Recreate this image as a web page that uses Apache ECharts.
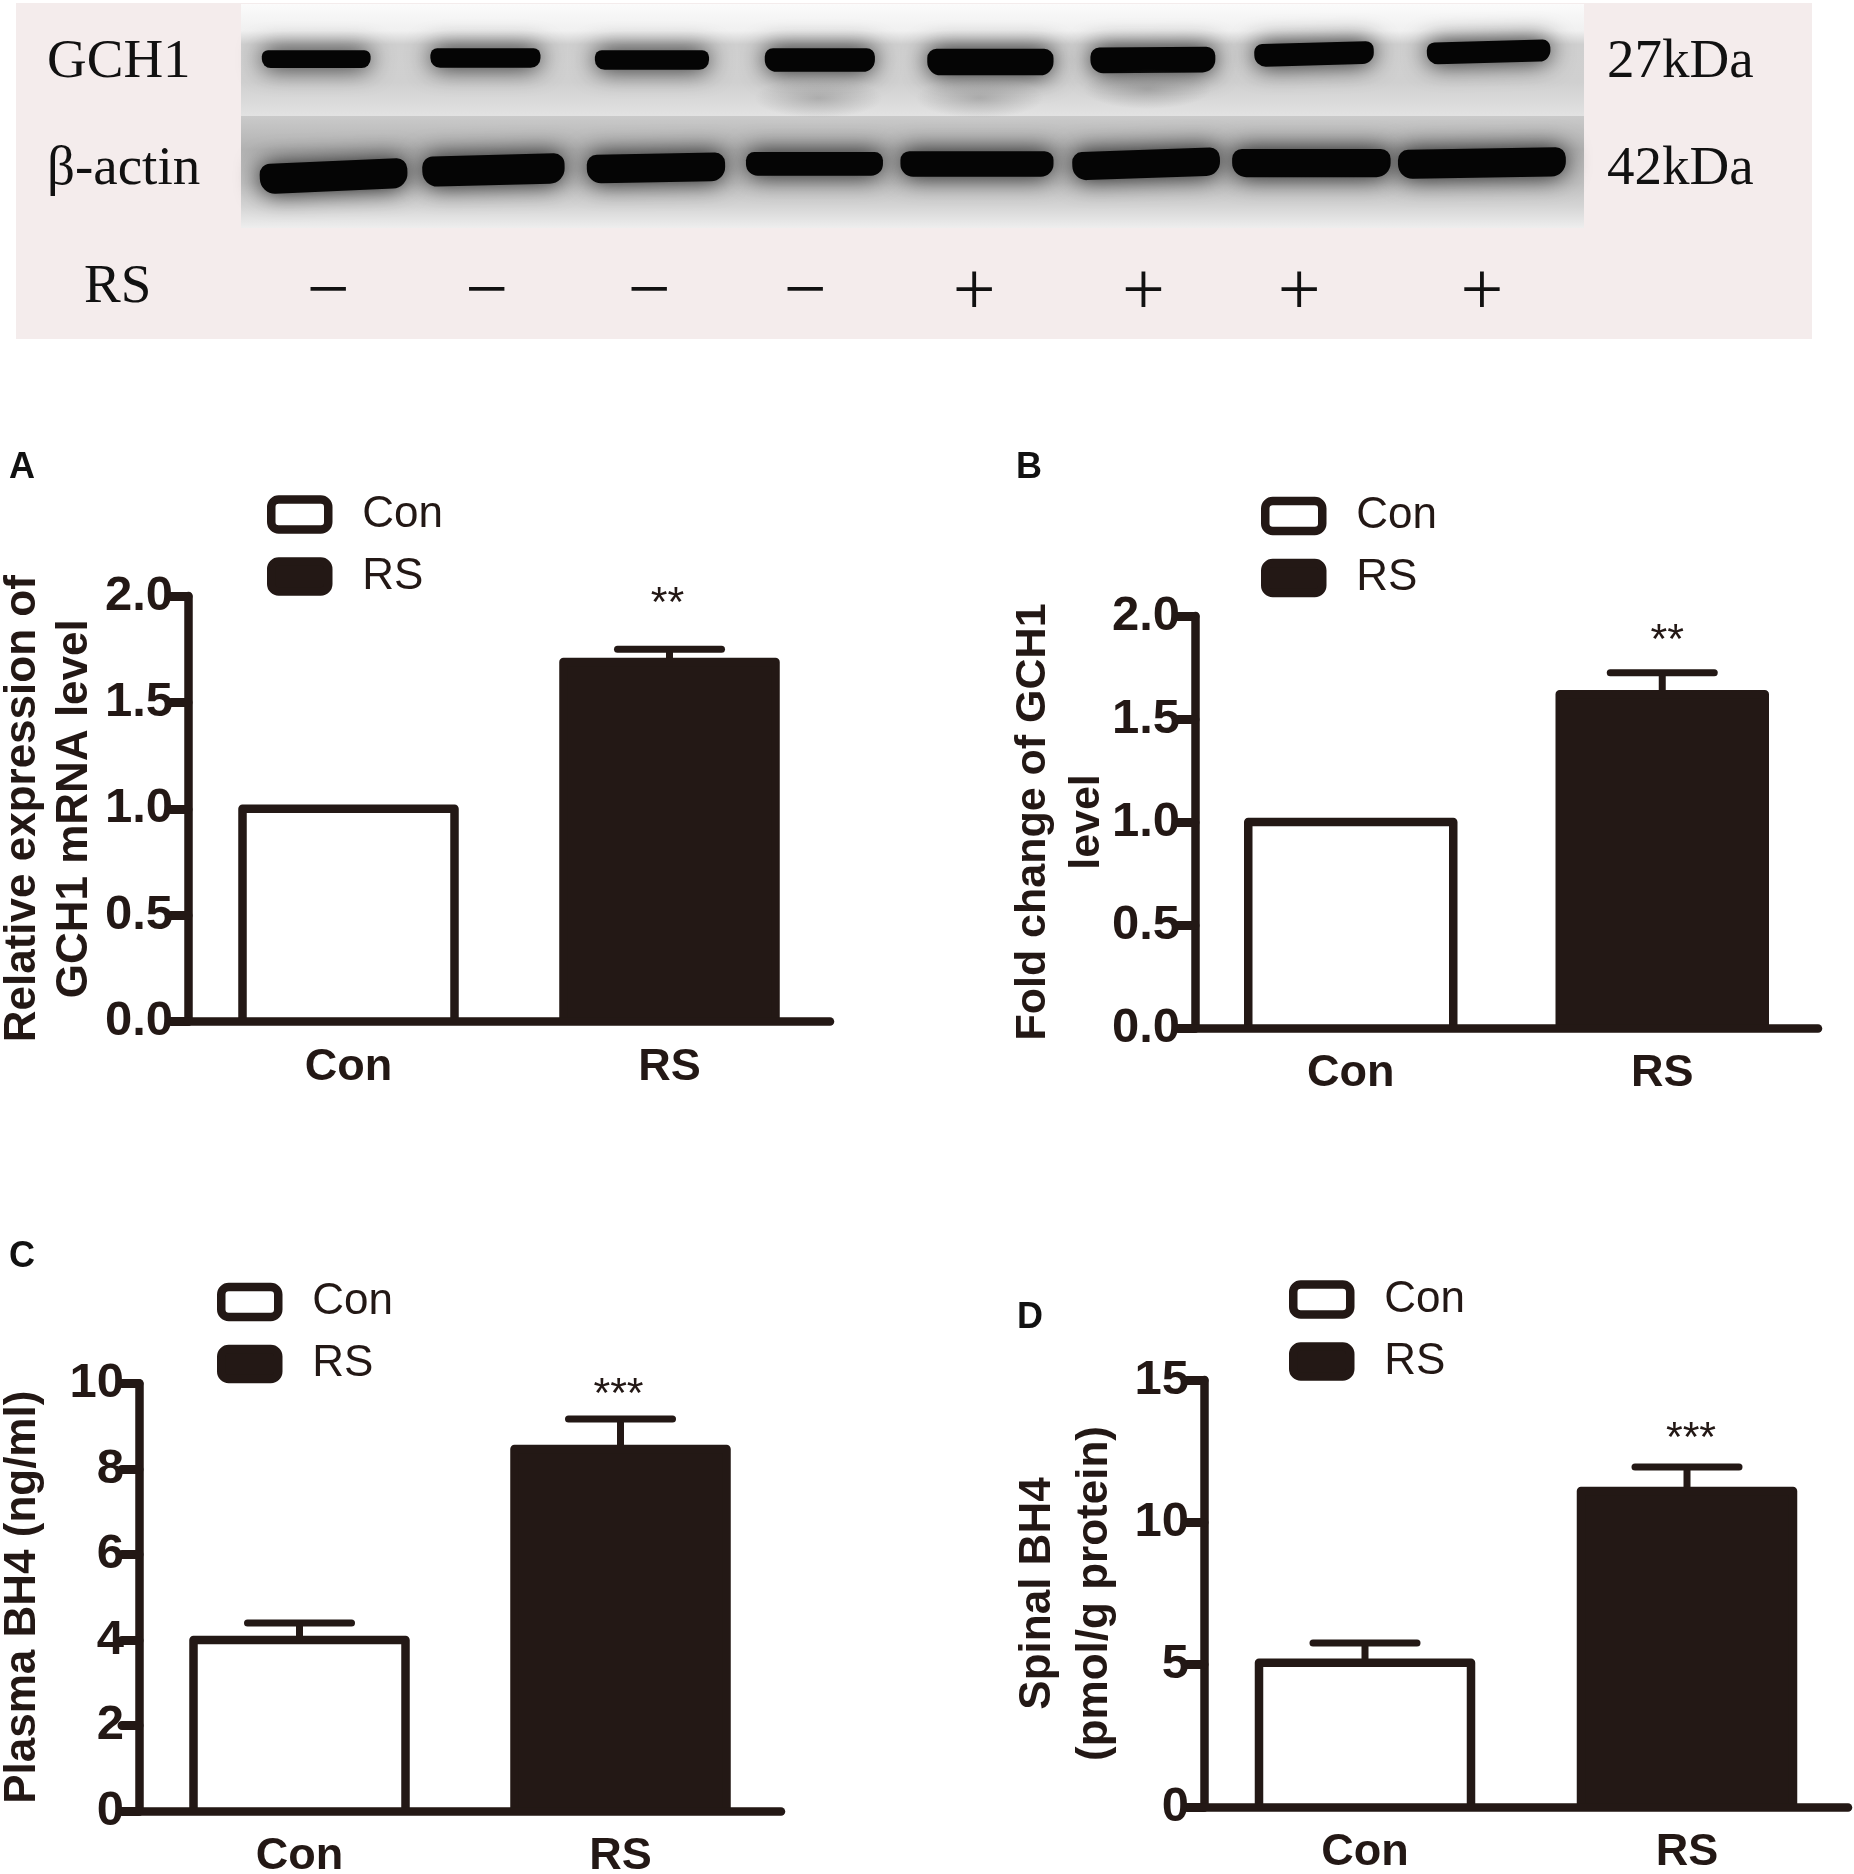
<!DOCTYPE html>
<html lang="en">
<head>
    <meta charset="UTF-8">
    <title>GCH1 and BH4 after RS</title>
    <script src="https://cdn.jsdelivr.net/npm/echarts@6/dist/echarts.min.js"></script>
    <style>
        html, body { margin: 0; padding: 0; background: #fff; }
        #main { width: 1854px; height: 1874px; }
    </style>
</head>
<body>
<div id="main"></div>
<script>
    // bar charts
    var groups = ['Con', 'RS'];
    var meanA = [1.0, 1.69], errA = [null, 1.75];
    var meanB = [1.0, 1.62], errB = [null, 1.725];
    var meanC = [4.0, 8.47], errC = [4.4, 9.17];
    var meanD = [5.07, 11.1], errD = [5.76, 11.94];

    // blot bands, lane centre and span in % of blot width, level and thickness in % of blot height
    var laneSigns = ['−', '−', '−', '−', '+', '+', '+', '+'];
    var signCentre = [6.5, 18.3, 30.4, 42, 54.6, 67.2, 78.8, 92.4];
    var gch1Centre = [5.6, 18.2, 30.6, 43.1, 55.8, 67.9, 79.9, 92.9];
    var gch1Span = [8.1, 8.2, 8.5, 8.2, 9.4, 9.3, 8.9, 9.2];
    var gch1Level = [24.6, 24.1, 25, 25, 25.9, 25, 22.3, 21.4];
    var gch1Thick = [8, 8.8, 8.8, 10.6, 11.9, 11.5, 10.2, 9.8];
    var gch1Tilt = [0, 0, 0, 0, 0, 0.5, 1.5, 1.5];
    var actinCentre = [6.9, 18.8, 30.9, 42.7, 54.8, 67.4, 79.7, 92.4];
    var actinSpan = [11, 10.6, 10.3, 10.2, 11.4, 11, 11.8, 12.5];
    var actinLevel = [76.8, 74.1, 73.2, 71.4, 71.4, 71.4, 71, 71];
    var actinThick = [13.5, 13.5, 12.8, 10.6, 11.4, 12.6, 12.6, 13];
    var actinTilt = [2.5, 1.5, 1, 0, 0, 2, 0, 1];
    var smearCentre = [43, 55, 67.5];
    var smearLevel = [42, 42, 38];

    var INK = '#231815';
    var SANS = '"Liberation Sans", Arial, sans-serif';
    var SERIF = '"Liberation Serif", "Times New Roman", serif';
    var STROKE = 8.5;

    var panels = [
        {letter: 'A', letterX: 9, letterY: 468, left: 188, right: 830, top: 596, bottom: 1021.5, max: 2, step: 0.5, digits: 1,
            mean: meanA, err: errA, barHalf: 106, stars: '**', starAt: 2.0, starDx: -2, legendX: 267, legendY: 492.5,
            nameGap: 87, nameSize: 44, nameLine: 52, name: 'Relative expression of\nGCH1 mRNA level'},
        {letter: 'B', letterX: 1016, letterY: 468, left: 1195, right: 1818, top: 616, bottom: 1028, max: 2, step: 0.5, digits: 1,
            mean: meanB, err: errB, barHalf: 102.5, stars: '**', starAt: 1.915, starDx: 5, legendX: 1261, legendY: 494,
            nameGap: 81, nameSize: 43, nameLine: 54, name: 'Fold change of GCH1\nlevel'},
        {letter: 'C', letterX: 9, letterY: 1257, left: 139, right: 781, top: 1383.5, bottom: 1811, max: 10, step: 2, digits: 0,
            mean: meanC, err: errC, barHalf: 106, stars: '***', starAt: 9.92, starDx: -2, legendX: 217, legendY: 1280,
            nameGap: 88.5, nameSize: 44, nameLine: 55, name: 'Plasma BH4 (ng/ml)'},
        {letter: 'D', letterX: 1017, letterY: 1318, left: 1204, right: 1848, top: 1380, bottom: 1807, max: 15, step: 5, digits: 0,
            mean: meanD, err: errD, barHalf: 106, stars: '***', starAt: 13.2, starDx: 4, legendX: 1289, legendY: 1277.5,
            nameGap: 81, nameSize: 44, nameLine: 57, name: 'Spinal BH4\n(pmol/g protein)'}
    ];

    // open at the bottom so the side walls run into the x axis like the original
    function barRender(fill, half) {
        return function (params, api) {
            var top = api.coord([api.value(0), api.value(1)]);
            var base = api.coord([api.value(0), 0]);
            return {type: 'polyline', shape: {points: [
                [top[0] - half, base[1]], [top[0] - half, top[1]], [top[0] + half, top[1]], [top[0] + half, base[1]]
            ]}, style: {fill: fill, stroke: INK, lineWidth: STROKE, lineJoin: 'round'}};
        };
    }

    function errorRender(params, api) {
        var i = api.value(0);
        var top = api.coord([i, api.value(1)]);
        var base = api.coord([i, api.value(2)]);
        return {
            type: 'group',
            children: [
                {type: 'line', shape: {x1: top[0], y1: base[1], x2: top[0], y2: top[1]},
                    style: {stroke: INK, lineWidth: 7}},
                {type: 'line', shape: {x1: top[0] - 52, y1: top[1], x2: top[0] + 52, y2: top[1]},
                    style: {stroke: INK, lineWidth: 7, lineCap: 'round'}}
            ]
        };
    }

    function starRender(panel) {
        return function (params, api) {
            var p = api.coord([1, panel.starAt]);
            return {type: 'text', style: {text: panel.stars, x: p[0] + panel.starDx, y: p[1] + 8, align: 'center', verticalAlign: 'middle',
                font: '43px ' + SANS, fill: INK}};
        };
    }

    var grids = [], xAxes = [], yAxes = [], series = [], legends = [];
    var graphics = [
        {type: 'rect', shape: {x: 16, y: 3, width: 1796, height: 336}, style: {fill: '#f4ecec'}, z: 0},
        {type: 'rect', shape: {x: 241, y: 4, width: 1343, height: 112}, z: 1, style: {fill: new echarts.graphic.LinearGradient(0, 0, 0, 1, [
            {offset: 0, color: '#fbfbfb'}, {offset: 0.24, color: '#f0f0f0'}, {offset: 0.36, color: '#cfcfcf'},
            {offset: 0.7, color: '#d0d0d0'}, {offset: 1, color: '#e2e2e2'}])}},
        {type: 'rect', shape: {x: 241, y: 116, width: 1343, height: 112}, z: 1, style: {fill: new echarts.graphic.LinearGradient(0, 0, 0, 1, [
            {offset: 0, color: '#cacaca'}, {offset: 0.3, color: '#b2b2b2'}, {offset: 0.6, color: '#c0c0c0'},
            {offset: 0.8, color: '#d4d4d4'}, {offset: 1, color: '#eeeeee'}])}}
    ];

    function blotText(text, x, y) {
        graphics.push({type: 'text', z: 3, style: {text: text, x: x, y: y, font: '55px ' + SERIF, fill: '#111', verticalAlign: 'middle'}});
    }
    blotText('GCH1', 47, 63);
    blotText('β-actin', 47, 170);
    blotText('RS', 84, 288);
    blotText('27kDa', 1607, 63);
    blotText('42kDa', 1607, 170);

    panels.forEach(function (p, i) {
        grids.push({left: p.left, top: p.top, width: p.right - p.left, height: p.bottom - p.top, show: false, outerBoundsMode: 'none'});
        xAxes.push({
            type: 'category', gridIndex: i, data: groups, z: 5,
            axisLine: {lineStyle: {color: INK, width: STROKE, cap: 'round'}},
            axisTick: {alignWithLabel: true, length: 20, lineStyle: {color: INK, width: 8, cap: 'round'}},
            axisLabel: {color: INK, fontFamily: SANS, fontWeight: 'bold', fontSize: 45, margin: 23.5}
        });
        yAxes.push({
            type: 'value', gridIndex: i, min: 0, max: p.max, interval: p.step,
            name: p.name, nameLocation: 'middle', nameGap: p.nameGap, nameRotate: 90, nameMoveOverlap: false,
            nameTextStyle: {color: INK, fontFamily: SANS, fontWeight: 'bold', fontSize: p.nameSize, lineHeight: p.nameLine},
            axisLine: {show: true, lineStyle: {color: INK, width: STROKE, cap: 'round'}},
            axisTick: {show: true, length: 17, lineStyle: {color: INK, width: 9, cap: 'round'}},
            axisLabel: {color: INK, fontFamily: SANS, fontWeight: 'bold', fontSize: 49, margin: 15,
                formatter: function (v) { return v.toFixed(p.digits); }},
            splitLine: {show: false}
        });
        series.push({
            name: 'Con', type: 'custom', xAxisIndex: i, yAxisIndex: i, z: 3, renderItem: barRender('#fff', p.barHalf),
            itemStyle: {color: '#fff'}, data: [[0, p.mean[0]]]
        });
        series.push({
            name: 'RS', type: 'custom', xAxisIndex: i, yAxisIndex: i, z: 3, renderItem: barRender(INK, p.barHalf),
            itemStyle: {color: INK}, data: [[1, p.mean[1]]]
        });
        series.push({
            type: 'custom', xAxisIndex: i, yAxisIndex: i, z: 2, renderItem: errorRender,
            data: p.err.map(function (v, k) { return v === null ? null : [k, v, p.mean[k]]; }).filter(Boolean)
        });
        series.push({
            type: 'custom', xAxisIndex: i, yAxisIndex: i, z: 4, renderItem: starRender(p), data: [[1, p.starAt]]
        });
        legends.push({
            left: p.legendX, top: p.legendY, orient: 'vertical', selectedMode: false, padding: 0,
            data: [
                {name: 'Con', icon: 'roundRect', itemStyle: {color: '#fff', borderColor: INK, borderWidth: STROKE}},
                {name: 'RS', icon: 'roundRect', itemStyle: {color: INK, borderColor: INK, borderWidth: STROKE}}
            ],
            itemWidth: 57, itemHeight: 30, itemGap: 18,
            textStyle: {color: INK, fontFamily: SANS, fontSize: 44, lineHeight: 30, padding: [0, 0, 0, 29]}
        });
        graphics.push({type: 'text', z: 3, style: {text: p.letter, x: p.letterX, y: p.letterY, font: 'bold 36px ' + SANS, fill: '#111', verticalAlign: 'middle'}});
    });

    // blot grid, covers the whole top panel: x in % of blot width, y in % of blot height
    grids.push({left: 241, top: 4, width: 1343, height: 336, show: false, outerBoundsMode: 'none'});
    xAxes.push({type: 'value', gridIndex: 4, min: 0, max: 100, show: false});
    yAxes.push({type: 'value', gridIndex: 4, min: 0, max: 150, inverse: true, show: false});

    function bandRender(params, api) {
        var c = api.coord([api.value(0), api.value(2)]);
        var w = api.size([api.value(1), 0])[0];
        var h = api.size([0, api.value(3)])[1];
        return {type: 'rect', x: c[0], y: c[1], originX: 0, originY: 0, rotation: api.value(4) * Math.PI / 180,
            shape: {x: -w / 2, y: -h / 2, width: w, height: h, r: [h * 0.35, h * 0.35, h * 0.5, h * 0.5]},
            style: {fill: '#050505', shadowBlur: 24, shadowColor: 'rgba(0,0,0,0.9)'}};
    }
    function bandData(centre, span, level, thick, tilt) {
        return centre.map(function (v, k) { return [v, span[k], level[k], thick[k], tilt[k]]; });
    }
    series.push({type: 'custom', xAxisIndex: 4, yAxisIndex: 4, z: 2, renderItem: bandRender, clip: false,
        data: bandData(gch1Centre, gch1Span, gch1Level, gch1Thick, gch1Tilt)});
    series.push({type: 'custom', xAxisIndex: 4, yAxisIndex: 4, z: 2, renderItem: bandRender, clip: false,
        data: bandData(actinCentre, actinSpan, actinLevel, actinThick, actinTilt)});
    series.push({type: 'custom', xAxisIndex: 4, yAxisIndex: 4, z: 2, clip: false,
        data: smearCentre.map(function (v, k) { return [v, smearLevel[k]]; }),
        renderItem: function (params, api) {
            var c = api.coord([api.value(0), api.value(1)]);
            return {type: 'circle', x: c[0], y: c[1], scaleX: 3.2, shape: {cx: 0, cy: 0, r: 20},
                style: {fill: {type: 'radial', x: 0.5, y: 0.5, r: 0.5, colorStops: [
                    {offset: 0, color: 'rgba(110,110,110,0.4)'}, {offset: 1, color: 'rgba(110,110,110,0)'}]}}};
        }});
    series.push({type: 'custom', xAxisIndex: 4, yAxisIndex: 4, z: 3, clip: false,
        data: signCentre.map(function (v, k) { return [v, 129.6, laneSigns[k]]; }),
        renderItem: function (params, api) {
            var c = api.coord([api.value(0), api.value(1)]);
            return {type: 'text', style: {text: laneSigns[params.dataIndex], x: c[0], y: c[1], align: 'center', verticalAlign: 'middle',
                font: '76px ' + SERIF, fill: '#111'}};
        }});

    var chart = echarts.init(document.getElementById('main'), null, {renderer: 'canvas'});
    chart.setOption({
        animation: false,
        backgroundColor: '#fff',
        grid: grids,
        xAxis: xAxes,
        yAxis: yAxes,
        legend: legends,
        series: series,
        graphic: graphics
    });
</script>
</body>
</html>
